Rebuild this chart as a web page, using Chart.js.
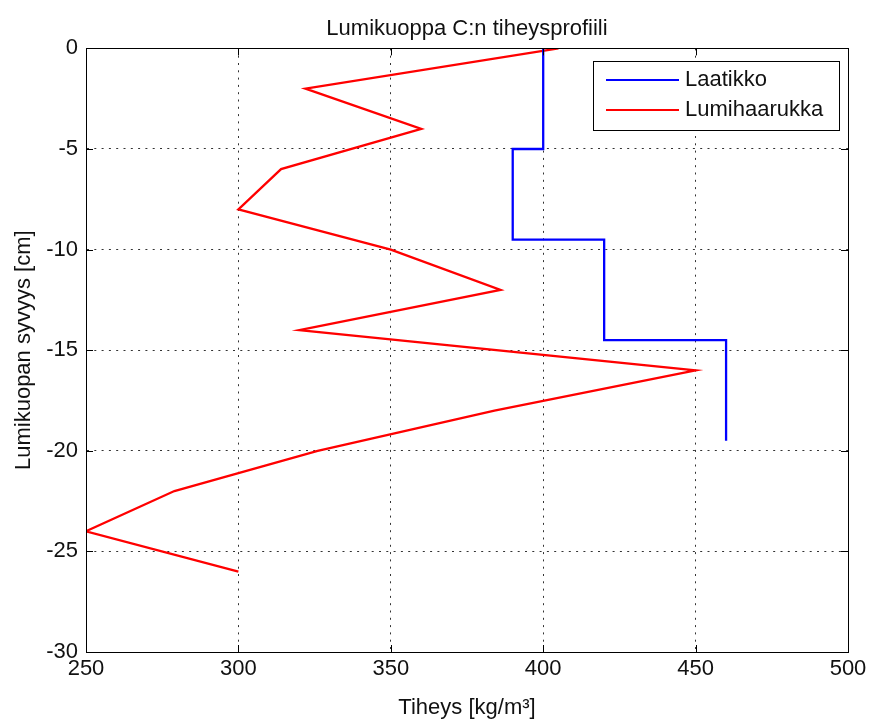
<!DOCTYPE html>
<html>
<head>
<meta charset="utf-8">
<title>Lumikuoppa C:n tiheysprofiili</title>
<script src="https://cdn.jsdelivr.net/npm/chart.js@4"></script>
<style>
  html, body { margin: 0; padding: 0; background: #fff; }
  #wrap { width: 871px; height: 722px; position: relative; }
</style>
</head>
<body>
<div id="wrap"><canvas id="profileChart"></canvas></div>
<script>
// ====================================================
// Snow pit C density profile
// ====================================================

// Box sampler: one density value per layer, layer edges in cm
const boxEdges = [0, -5, -9.5, -14.5, -19.5];
const boxDensity = [400, 390, 420, 460];

// Snow fork: reading every 2 cm
const forkDepth = [0, -2, -4, -6, -8, -10, -12, -14, -16, -18, -20, -22, -24, -26];
const forkDensity = [405, 322, 360, 314, 300, 350, 386, 320, 450, 384, 326, 279, 250, 300];

const xTicks = [250, 300, 350, 400, 450, 500];
const yTicks = [0, -5, -10, -15, -20, -25, -30];

const TEXT_COLOR = '#111';
const FONT = '"Liberation Sans", Arial, Helvetica, sans-serif';
Chart.defaults.font.family = FONT;
Chart.defaults.color = TEXT_COLOR;

// Build the staircase for the box layers
function stairPoints(edges, values) {
    const pts = [];
    values.forEach((v, i) => {
        pts.push({ x: v, y: edges[i] });
        pts.push({ x: v, y: edges[i + 1] });
    });
    return pts;
}

const forkPoints = forkDepth.map((d, i) => ({ x: forkDensity[i], y: d }));

// Box + inward tick marks, like a classic plot frame
const framePlugin = {
    id: 'frame',
    afterDraw(chart) {
        const { ctx, chartArea: a, scales } = chart;
        const len = 7;
        ctx.save();
        ctx.strokeStyle = '#000';
        ctx.lineWidth = 1;
        ctx.beginPath();
        scales.x.ticks.forEach(t => {
            const px = Math.round(scales.x.getPixelForValue(t.value)) + 0.5;
            ctx.moveTo(px, a.bottom);
            ctx.lineTo(px, a.bottom - len);
            ctx.moveTo(px, a.top);
            ctx.lineTo(px, a.top + len);
        });
        scales.y.ticks.forEach(t => {
            const py = Math.round(scales.y.getPixelForValue(t.value)) + 0.5;
            ctx.moveTo(a.left, py);
            ctx.lineTo(a.left + len, py);
            ctx.moveTo(a.right, py);
            ctx.lineTo(a.right - len, py);
        });
        ctx.stroke();
        ctx.strokeRect(Math.round(a.left) + 0.5, Math.round(a.top) + 0.5,
            Math.round(a.right - a.left), Math.round(a.bottom - a.top));
        ctx.restore();
    }
};

// Legend box in the upper right corner of the plot
const legendBoxPlugin = {
    id: 'legendBox',
    afterDraw(chart) {
        const { ctx, chartArea: a } = chart;
        const sets = chart.data.datasets;
        const lineLen = 73, gap = 6, padL = 13, padR = 16, rowH = 30;
        ctx.save();
        ctx.font = '22px ' + FONT;
        const textW = Math.max(...sets.map(s => ctx.measureText(s.label).width));
        const w = padL + lineLen + gap + textW + padR;
        const h = 69;
        const right = Math.round(a.right) - 9;
        const left = Math.round(right - w);
        const top = Math.round(a.top) + 13;
        ctx.fillStyle = '#fff';
        ctx.fillRect(left, top, right - left, h);
        ctx.strokeStyle = '#000';
        ctx.lineWidth = 1;
        ctx.strokeRect(left + 0.5, top + 0.5, right - left, h);
        sets.forEach((s, i) => {
            const y = top + 19 + i * rowH;
            ctx.strokeStyle = s.borderColor;
            ctx.lineWidth = 2;
            ctx.beginPath();
            ctx.moveTo(left + padL, y);
            ctx.lineTo(left + padL + lineLen, y);
            ctx.stroke();
            ctx.fillStyle = TEXT_COLOR;
            ctx.textBaseline = 'middle';
            ctx.textAlign = 'left';
            ctx.fillText(s.label, left + padL + lineLen + gap, y);
        });
        ctx.restore();
    }
};

function gridOpts() {
    return { color: '#333', lineWidth: 1, drawTicks: false };
}

const chart = new Chart(document.getElementById('profileChart'), {
    type: 'scatter',
    data: {
        datasets: [{
            label: 'Laatikko',
            data: stairPoints(boxEdges, boxDensity),
            showLine: true,
            borderColor: '#0000ff',
            backgroundColor: '#0000ff',
            borderWidth: 2.3,
            pointRadius: 0,
            tension: 0
        }, {
            label: 'Lumihaarukka',
            data: forkPoints,
            showLine: true,
            borderColor: '#ff0000',
            backgroundColor: '#ff0000',
            borderWidth: 2.3,
            pointRadius: 0,
            tension: 0
        }]
    },
    plugins: [framePlugin, legendBoxPlugin],
    options: {
        responsive: true,
        maintainAspectRatio: false,
        animation: false,
        events: [],
        layout: { padding: { left: 0, right: 23, top: 0, bottom: 0 } },
        plugins: {
            legend: { display: false },
            tooltip: { enabled: false },
            title: {
                display: true,
                fullSize: false,
                text: 'Lumikuoppa C:n tiheysprofiili',
                color: TEXT_COLOR,
                font: { size: 22, weight: 'normal' },
                padding: { top: 16, bottom: 6 }
            }
        },
        scales: {
            x: {
                type: 'linear',
                position: 'bottom',
                min: 250,
                max: 500,
                afterBuildTicks: s => { s.ticks = xTicks.map(v => ({ value: v })); },
                afterFit: s => { s.height = 70; },
                grid: gridOpts(),
                border: { display: true, color: '#000', width: 1, dash: [2, 5.3] },
                ticks: { font: { size: 22 }, color: TEXT_COLOR, padding: 4, maxRotation: 0 },
                title: {
                    display: true,
                    text: 'Tiheys [kg/m³]',
                    color: TEXT_COLOR,
                    font: { size: 22 },
                    padding: { top: 0, bottom: 1 }
                }
            },
            y: {
                type: 'linear',
                min: -30,
                max: 0,
                afterBuildTicks: s => { s.ticks = yTicks.map(v => ({ value: v })); },
                afterFit: s => { s.width = 86; },
                grid: gridOpts(),
                border: { display: true, color: '#000', width: 1, dash: [2, 5.3] },
                ticks: { font: { size: 22 }, color: TEXT_COLOR, padding: 8 },
                title: {
                    display: true,
                    text: 'Lumikuopan syvyys [cm]',
                    color: TEXT_COLOR,
                    font: { size: 22 },
                    padding: { top: 11, bottom: 0 }
                }
            }
        }
    }
});
</script>
</body>
</html>
